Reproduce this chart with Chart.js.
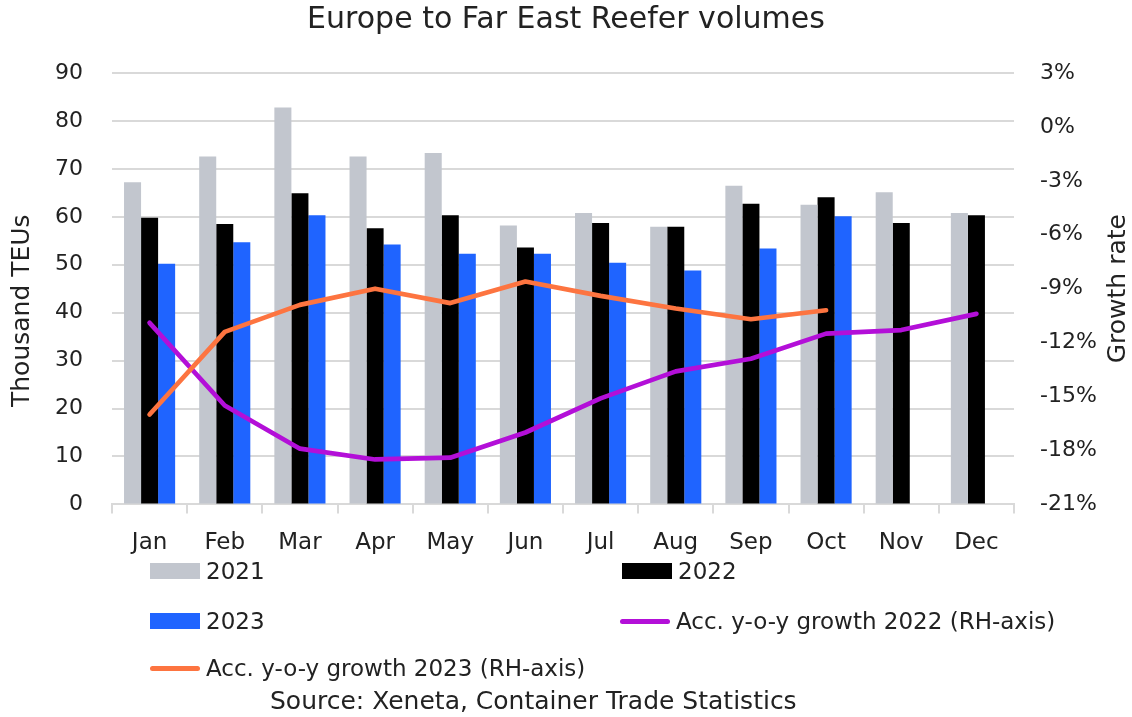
<!DOCTYPE html>
<html>
<head>
<meta charset="utf-8">
<script src="https://cdn.jsdelivr.net/npm/chart.js@4"></script>
<style>
	html, body { margin: 0; padding: 0; background: #fff; }
	#wrap { position: relative; width: 1132px; height: 717px; font-family: "DejaVu Sans", sans-serif; color: #222; }
	#legend { position: absolute; left: 0; top: 0; width: 1132px; height: 717px; pointer-events: none; }
	.item { position: absolute; display: flex; align-items: center; font-size: 23px; white-space: nowrap; }
	.item .key { width: 50px; margin-right: 6px; }
	#source { position: absolute; left: 270px; top: 686px; font-size: 25px; white-space: nowrap; }
</style>
</head>
<body>
<div id="wrap">
	<canvas id="canvas" width="1132" height="717"></canvas>
	<div id="legend"></div>
	<div id="source">Source: Xeneta, Container Trade Statistics</div>
</div>
<script>
var months = [ "Jan", "Feb", "Mar", "Apr", "May", "Jun", "Jul", "Aug", "Sep", "Oct", "Nov", "Dec" ];

// thousand TEUs
var vol2021 = [ 67.2, 72.6, 82.8, 72.6, 73.3, 58.2, 60.8, 57.9, 66.5, 62.5, 65.1, 60.8 ];
var vol2022 = [ 59.8, 58.5, 64.9, 57.6, 60.3, 53.6, 58.7, 57.9, 62.7, 64.1, 58.7, 60.3 ];
var vol2023 = [ 50.2, 54.7, 60.3, 54.2, 52.3, 52.3, 50.4, 48.8, 53.4, 60.1, null, null ];

// accumulated y-o-y growth, %
var growth2022 = [ -10.9, -15.5, -17.9, -18.5, -18.4, -17.0, -15.1, -13.6, -12.9, -11.5, -11.3, -10.4 ];
var growth2023 = [ -16.0, -11.4, -9.9, -9.0, -9.8, -8.6, -9.4, -10.1, -10.7, -10.2, null, null ];

var leftTicks = { min : 0, max : 90, step : 10 };
var rightTicks = { min : -21, max : 3, step : 3 };

var fontFamily = "'DejaVu Sans', sans-serif";
var textColor = "#222";
var gridColor = "#d9d9d9";

var chartData = {
	labels : months,
	datasets : [ {
		label : "2021",
		data : vol2021,
		backgroundColor : "#c2c6ce",
		yAxisID : "y",
		order : 3
	}, {
		label : "2022",
		data : vol2022,
		backgroundColor : "#000000",
		yAxisID : "y",
		order : 3
	}, {
		label : "2023",
		data : vol2023,
		backgroundColor : "#1f64ff",
		yAxisID : "y",
		order : 3
	}, {
		type : "line",
		label : "Acc. y-o-y growth 2022 (RH-axis)",
		data : growth2022,
		borderColor : "#b30fd8",
		backgroundColor : "#b30fd8",
		borderWidth : 4.7,
		pointRadius : 0,
		borderCapStyle : "round",
		borderJoinStyle : "round",
		yAxisID : "y1",
		order : 2
	}, {
		type : "line",
		label : "Acc. y-o-y growth 2023 (RH-axis)",
		data : growth2023,
		borderColor : "#fd7440",
		backgroundColor : "#fd7440",
		borderWidth : 4.7,
		pointRadius : 0,
		borderCapStyle : "round",
		borderJoinStyle : "round",
		yAxisID : "y1",
		order : 1
	} ]
};

// legend slots: dataset index, left, top
var legendSlots = [ [ 0, 150, 558 ], [ 1, 622, 558 ], [ 2, 150, 608 ], [ 3, 620, 608 ], [ 4, 150, 655 ] ];

function buildLegend(chart) {
	var box = document.getElementById("legend");
	box.innerHTML = "";
	legendSlots.forEach(function(slot) {
		var ds = chart.data.datasets[slot[0]];
		var item = document.createElement("div");
		item.className = "item";
		item.style.left = slot[1] + "px";
		item.style.top = slot[2] + "px";
		var key = document.createElement("span");
		key.className = "key";
		if (ds.type === "line") {
			key.style.height = "5px";
			key.style.borderRadius = "3px";
			key.style.background = ds.borderColor;
		} else {
			key.style.height = "16px";
			key.style.background = ds.backgroundColor;
		}
		var txt = document.createElement("span");
		txt.textContent = ds.label;
		item.appendChild(key);
		item.appendChild(txt);
		box.appendChild(item);
	});
}

// both axis titles read bottom-to-top
function drawSideTitle(c, text, x, y) {
	c.save();
	c.translate(x, y);
	c.rotate(-Math.PI / 2);
	c.font = "25px " + fontFamily;
	c.fillStyle = textColor;
	c.textAlign = "center";
	c.textBaseline = "middle";
	c.fillText(text, 0, 0);
	c.restore();
}

var axisTitles = {
	id : "axisTitles",
	afterDraw : function(chart) {
		var area = chart.chartArea;
		var mid = (area.top + area.bottom) / 2;
		drawSideTitle(chart.ctx, "Thousand TEUs", 22, mid + 22);
		drawSideTitle(chart.ctx, "Growth rate", chart.width - 14, mid);
	}
};

window.onload = function() {
	var ctx = document.getElementById("canvas").getContext("2d");
	window.myChart = new Chart(ctx, {
		type : "bar",
		data : chartData,
		plugins : [ axisTitles ],
		options : {
			responsive : false,
			animation : false,
			datasets : {
				bar : {
					categoryPercentage : 0.68,
					barPercentage : 1.0
				}
			},
			layout : {
				padding : { left : 0, right : 0, top : 0, bottom : 144 }
			},
			plugins : {
				legend : { display : false },
				tooltip : { enabled : false },
				title : {
					display : true,
					text : "Europe to Far East Reefer volumes",
					color : textColor,
					font : { family : fontFamily, size : 30, weight : "normal" },
					padding : { top : 2, bottom : 35 }
				}
			},
			scales : {
				x : {
					offset : true,
					grid : {
						drawOnChartArea : false,
						drawTicks : true,
						tickLength : 9,
						color : gridColor,
						lineWidth : 2
					},
					border : { display : true, color : gridColor, width : 2 },
					ticks : {
						color : textColor,
						padding : 16,
						font : { family : fontFamily, size : 23 }
					}
				},
				y : {
					position : "left",
					min : leftTicks.min,
					max : leftTicks.max,
					afterFit : function(scale) {
						scale.width = 112;
					},
					ticks : {
						stepSize : leftTicks.step,
						color : textColor,
						padding : 29,
						font : { family : fontFamily, size : 22 }
					},
					grid : { color : gridColor, lineWidth : 2, drawTicks : false },
					border : { display : false }
				},
				y1 : {
					position : "right",
					min : rightTicks.min,
					max : rightTicks.max,
					afterFit : function(scale) {
						scale.width = 118;
					},
					ticks : {
						stepSize : rightTicks.step,
						color : textColor,
						padding : 26,
						font : { family : fontFamily, size : 22 },
						callback : function(v) {
							return v + "%";
						}
					},
					grid : { display : false, drawTicks : false },
					border : { display : false }
				}
			}
		}
	});
	buildLegend(window.myChart);
};
</script>
</body>
</html>
